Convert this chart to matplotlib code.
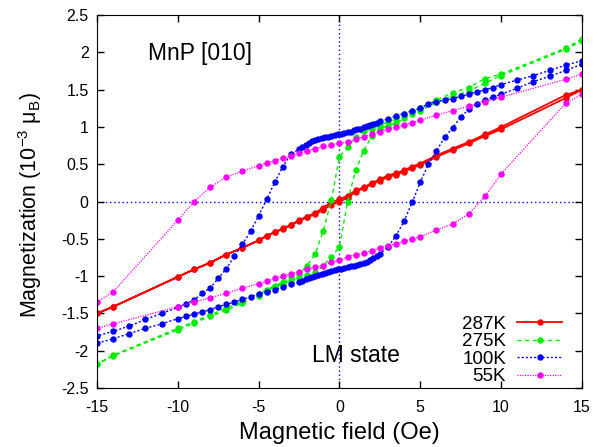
import numpy as np
import matplotlib
matplotlib.use('Agg')
import matplotlib.pyplot as plt
from matplotlib.ticker import FormatStrFormatter, MultipleLocator

plt.rcParams['font.family'] = ['Liberation Sans', 'DejaVu Sans']
plt.rcParams['mathtext.fontset'] = 'custom'
plt.rcParams['mathtext.rm'] = 'Liberation Sans'
plt.rcParams['axes.unicode_minus'] = False

# field sweeps (Oe): down branch goes +15 -> -15, up branch goes -15 -> +15
h_coarse_pos = [15, 14, 10, 9, 8, 7, 6, 5, 4.5, 4, 3.5, 3, 2.5, 2, 1.5, 1, 0.5, 0]
h_coarse_neg = [-0.5, -1, -1.5, -2, -2.5, -3, -3.5, -4, -4.5, -5, -6, -7, -8, -9, -10, -14, -15]

# 287K
m287_down = [1.50, 1.43, 1.00, 0.90, 0.80, 0.71, 0.62, 0.51, 0.47, 0.42, 0.38, 0.35, 0.30, 0.25,
             0.19, 0.15, 0.08, 0.03,
             -0.01, -0.08, -0.15, -0.20, -0.25, -0.31, -0.36, -0.41, -0.46, -0.52, -0.62, -0.71,
             -0.82, -0.91, -1.01, -1.41, -1.50]
m287_up = [-1.50, -1.41, -1.01, -0.91, -0.82, -0.71, -0.62, -0.52, -0.46, -0.41, -0.37, -0.32,
           -0.26, -0.21, -0.17, -0.11, -0.04,
           0.00, 0.05, 0.13, 0.18, 0.23, 0.28, 0.33, 0.36, 0.40, 0.45, 0.49, 0.60, 0.69, 0.78,
           0.88, 0.97, 1.39, 1.50]

# 275K
m275_down = [2.18, 2.06, 1.71, 1.65, 1.53, 1.46, 1.36, 1.26, 1.22, 1.17, 1.11, 1.07, 1.02, 0.98,
             0.95, 0.86, 0.73, 0.60,
             0.02, -0.39, -0.70, -0.86, -0.97, -1.01, -1.08, -1.13, -1.18, -1.24, -1.34, -1.43,
             -1.52, -1.61, -1.70, -2.06, -2.18]
m275_up = [-2.18, -2.07, -1.72, -1.63, -1.54, -1.46, -1.36, -1.26, -1.20, -1.15, -1.10, -1.06,
           -1.02, -0.98, -0.95, -0.86, -0.74,
           -0.61, 0.00, 0.42, 0.68, 0.88, 0.97, 1.02, 1.05, 1.12, 1.17, 1.22, 1.33, 1.42, 1.48,
           1.59, 1.69, 2.04, 2.16]

# 55K
m55_down = [1.71, 1.64, 1.40, 1.34, 1.28, 1.22, 1.16, 1.09, 1.06, 1.03, 1.00, 0.97, 0.94, 0.90,
            0.87, 0.84, 0.80, 0.78,
            0.76, 0.74, 0.71, 0.68, 0.65, 0.61, 0.58, 0.55, 0.52, 0.48, 0.41, 0.33, 0.19, 0.00,
            -0.25, -1.21, -1.35]
m55_up = [-1.70, -1.64, -1.41, -1.35, -1.29, -1.23, -1.16, -1.10, -1.07, -1.03, -1.00, -0.97,
          -0.94, -0.91, -0.88, -0.86, -0.81,
          -0.79, -0.74, -0.71, -0.69, -0.66, -0.62, -0.59, -0.57, -0.53, -0.50, -0.47, -0.38,
          -0.30, -0.165, 0.07, 0.37, 1.32, 1.44]

# 100K: coarse outer steps plus a fine sweep between -2.5 and 2.5 Oe
h100_outer_pos = [15, 14, 13, 12, 11, 10, 9.5, 9, 8.5, 8, 7.5, 7, 6.5, 6, 5.5, 5, 4.5, 4, 3.5, 3]
h100_outer_neg = [-3, -3.5, -4, -4.5, -5, -5.5, -6, -6.5, -7, -7.5, -8, -8.5, -9, -9.5, -10,
                  -11, -12, -13, -14, -15]
h100_fine = [2.5, 2.3, 2.1, 1.9, 1.7, 1.5, 1.3, 1.1, 0.9, 0.7, 0.5, 0.3, 0.1,
             -0.1, -0.3, -0.5, -0.7, -0.9, -1.1, -1.3, -1.5, -1.7, -1.9, -2.1, -2.3, -2.5]

m100_down_outer = [1.89, 1.83, 1.76, 1.69, 1.63, 1.57, 1.53, 1.50, 1.47, 1.44, 1.41, 1.38, 1.36,
                   1.34, 1.31, 1.25, 1.22, 1.18, 1.15, 1.11]
m100_down_fine = [1.08, 1.06, 1.04, 1.025, 1.01, 0.995, 0.98, 0.97, 0.955, 0.94, 0.93, 0.92,
                  0.91, 0.90, 0.89, 0.88, 0.87, 0.86, 0.85, 0.84, 0.82, 0.81, 0.78, 0.76,
                  0.73, 0.70]
m100_down_tail = [0.64, 0.47, 0.26, 0.03, -0.19, -0.40, -0.57, -0.73, -0.90, -1.03, -1.16,
                  -1.23, -1.32, -1.37, -1.42, -1.50, -1.58, -1.67, -1.74, -1.80]

m100_up_outer = [-1.90, -1.84, -1.77, -1.70, -1.64, -1.57, -1.54, -1.51, -1.48, -1.45, -1.41,
                 -1.38, -1.35, -1.31, -1.28, -1.24, -1.21, -1.18, -1.15, -1.11]
m100_up_fine = [-1.08, -1.06, -1.04, -1.025, -1.01, -0.995, -0.98, -0.97, -0.955, -0.94, -0.93,
                -0.92, -0.91, -0.90, -0.89, -0.88, -0.87, -0.86, -0.85, -0.84, -0.82, -0.81,
                -0.78, -0.76, -0.73, -0.70]
m100_up_tail = [-0.61, -0.46, -0.26, -0.01, 0.26, 0.50, 0.68, 0.86, 0.99, 1.13, 1.24, 1.31,
                1.36, 1.40, 1.44, 1.52, 1.61, 1.68, 1.76, 1.84]

# assemble full loops
h_loop = h_coarse_pos + h_coarse_neg
h_loop = h_loop + h_loop[::-1]
h100 = h100_outer_pos + h100_fine + h100_outer_neg
h100 = h100 + [-h for h in h100]

loops = [
    ('287K', h_loop, m287_down + m287_up, '#ff0000', '-', 1.3),
    ('275K', h_loop, m275_down + m275_up, '#00ee00', (0, (3, 2.5)), 1.0),
    ('100K', h100, m100_down_outer + m100_down_fine + m100_down_tail
     + m100_up_outer + m100_up_fine + m100_up_tail, '#0000ff', (0, (1.5, 1.5)), 1.0),
    ('55K', h_loop, m55_down + m55_up, '#ff00ff', (0, (1, 1)), 0.9),
]

fig = plt.figure(figsize=(5.95, 4.47), dpi=100)
ax = fig.add_axes([0.163, 0.132, 0.815, 0.834])

ax.axhline(0, color='#0000ff', ls=(0, (1, 2)), lw=1.0, zorder=1)
ax.axvline(0, color='#0000ff', ls=(0, (1, 2)), lw=1.0, zorder=1)

for label, h, m, col, ls, lw in loops:
    ax.plot(h, m, color=col, ls=ls, lw=lw, marker='o', ms=3.6, mec=col, mfc=col,
            label=label, zorder=2)

ax.set_xlim(-15, 15)
ax.set_ylim(-2.5, 2.5)
ax.xaxis.set_major_locator(MultipleLocator(5))
ax.yaxis.set_major_locator(MultipleLocator(0.5))
ax.xaxis.set_major_formatter(FormatStrFormatter('%g'))
ax.yaxis.set_major_formatter(FormatStrFormatter('%g'))
ax.tick_params(direction='in', top=True, right=True, length=5, width=1,
               labelsize=11.5)
ax.tick_params(axis='x', pad=9)
ax.tick_params(axis='y', pad=6)

ax.set_xlabel('Magnetic field (Oe)', fontsize=17, labelpad=5)
ax.set_ylabel(r'Magnetization (10$^{\mathregular{-3}}$ μ$_{\mathregular{B}}$)',
              fontsize=15.5, labelpad=12)
ax.yaxis.label.set_y(0.49)

ax.text(-8.6, 1.98, 'MnP [010]', fontsize=16.5, ha='center', va='center')
ax.text(1.05, -2.06, 'LM state', fontsize=16.5, ha='center', va='center')

ax.legend(loc='lower right', bbox_to_anchor=(0.981, -0.02), frameon=False,
          markerfirst=False, numpoints=1, fontsize=13.5, handlelength=2.4,
          handletextpad=0.6, labelspacing=0.02, borderaxespad=0.15)

fig.savefig('out.png', dpi=100)
